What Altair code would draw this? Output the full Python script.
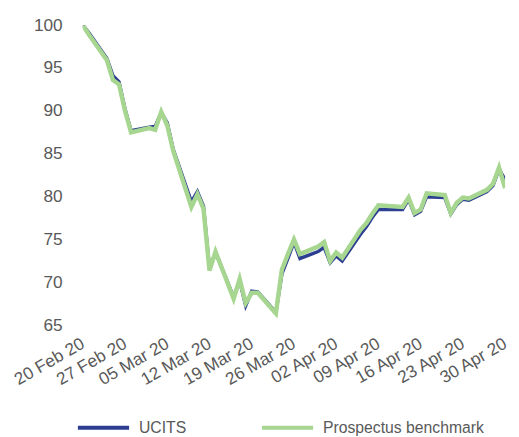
import altair as alt
import pandas as pd

dates = [
    "2020-02-20", "2020-02-21", "2020-02-24", "2020-02-25", "2020-02-26", "2020-02-27", "2020-02-28",
    "2020-03-02", "2020-03-03", "2020-03-04", "2020-03-05", "2020-03-06",
    "2020-03-09", "2020-03-10", "2020-03-11", "2020-03-12", "2020-03-13",
    "2020-03-16", "2020-03-17", "2020-03-18", "2020-03-19", "2020-03-20",
    "2020-03-23", "2020-03-24", "2020-03-25", "2020-03-26", "2020-03-27",
    "2020-03-30", "2020-03-31", "2020-04-01", "2020-04-02", "2020-04-03",
    "2020-04-06", "2020-04-07", "2020-04-08", "2020-04-09",
    "2020-04-13", "2020-04-14", "2020-04-15", "2020-04-16", "2020-04-17",
    "2020-04-20", "2020-04-21", "2020-04-22", "2020-04-23", "2020-04-24",
    "2020-04-27", "2020-04-28", "2020-04-29", "2020-04-30",
]

benchmark = [
    100.0, 98.9, 95.9, 93.6, 93.1, 90.0, 87.5,
    88.0, 87.8, 89.9, 88.3, 85.3,
    78.8, 80.3, 78.6, 71.4, 73.6,
    68.1, 70.4, 67.6, 68.8, 68.8,
    66.4, 71.5, 73.3, 75.0, 73.3,
    74.2, 74.7, 72.5, 73.5, 72.9,
    76.1, 76.9, 78.0, 79.0,
    78.8, 79.9, 78.1, 78.5, 80.4,
    80.2, 78.1, 79.3, 79.9, 79.8,
    80.8, 81.5, 83.4, 81.0,
]

ucits = [
    100.0, 99.1, 96.1, 94.1, 93.4, 90.2, 87.7,
    88.1, 88.2, 89.8, 88.6, 85.5,
    79.4, 80.6, 78.9, 71.6, 73.5,
    68.3, 70.2, 67.3, 69.0, 68.9,
    66.5, 71.0, 72.8, 74.7, 72.8,
    73.6, 74.1, 72.3, 73.1, 72.5,
    75.6, 76.5, 77.6, 78.5,
    78.5, 79.7, 77.9, 78.3, 80.0,
    79.9, 78.0, 79.1, 79.7, 79.6,
    80.6, 81.3, 83.2, 82.0,
]

series_names = ["UCITS", "Prospectus benchmark"]
series_colors = ["#2B3E91", "#A6D68F"]
y_ticks = [65, 70, 75, 80, 85, 90, 95, 100]
x_tick_dates = [(2, 20), (2, 27), (3, 5), (3, 12), (3, 19), (3, 26),
                (4, 2), (4, 9), (4, 16), (4, 23), (4, 30)]

rows = []
for d, u, b in zip(dates, ucits, benchmark):
    rows.append({"date": d, "series": "UCITS", "value": u})
    rows.append({"date": d, "series": "Prospectus benchmark", "value": b})
df = pd.DataFrame(rows)

text_color = "#595959"
font = "Liberation Sans"

x_values = [alt.DateTime(year=2020, month=m, date=d, utc=True) for m, d in x_tick_dates]

x_enc = alt.X(
    "date:T",
    scale=alt.Scale(
        type="utc",
        domain=[alt.DateTime(year=2020, month=2, date=20, utc=True),
                alt.DateTime(year=2020, month=4, date=30, utc=True)],
    ),
    axis=alt.Axis(
        values=x_values,
        labelExpr="utcFormat(datum.value, '%d %b %y')",
        labelAngle=-30,
        labelAlign="right",
        labelBaseline="middle",
        labelPadding=17,
        labelFontSize=17.5,
        labelColor=text_color,
        labelFont=font,
        labelOverlap=False,
        labelBound=False,
        labelFlush=False,
        domain=False,
        ticks=False,
        grid=False,
        title=None,
    ),
)

y_enc = alt.Y(
    "value:Q",
    scale=alt.Scale(domain=[65, 100], nice=False, zero=False),
    axis=alt.Axis(
        values=y_ticks,
        labelFontSize=17.5,
        labelColor=text_color,
        labelFont=font,
        labelPadding=21,
        domain=False,
        ticks=False,
        grid=False,
        title=None,
    ),
)

color_enc = alt.Color(
    "series:N",
    scale=alt.Scale(domain=series_names, range=series_colors),
    legend=alt.Legend(
        title=None,
        orient="none",
        direction="horizontal",
        legendX=-7,
        legendY=381,
        symbolType="stroke",
        symbolSize=2704,
        symbolStrokeWidth=4,
        labelFontSize=16,
        labelColor=text_color,
        labelFont=font,
        labelOffset=8,
        labelLimit=400,
        columnPadding=69,
    ),
)

blue = alt.Chart(df).transform_filter(alt.datum.series == "UCITS").mark_line(
    strokeWidth=3.5, clip=True
).encode(x=x_enc, y=y_enc, color=color_enc)

green = alt.Chart(df).transform_filter(alt.datum.series == "Prospectus benchmark").mark_line(
    strokeWidth=4.5, clip=True
).encode(x=x_enc, y=y_enc, color=color_enc)

chart = alt.layer(blue, green).properties(
    width=429,
    height=305,
    autosize=alt.AutoSizeParams(type="none"),
    padding={"left": 76, "top": 14, "right": 6, "bottom": 109},
    background="white",
).configure_view(stroke=None)

chart.save("out.html", embed_options={"renderer": "svg", "actions": False})
